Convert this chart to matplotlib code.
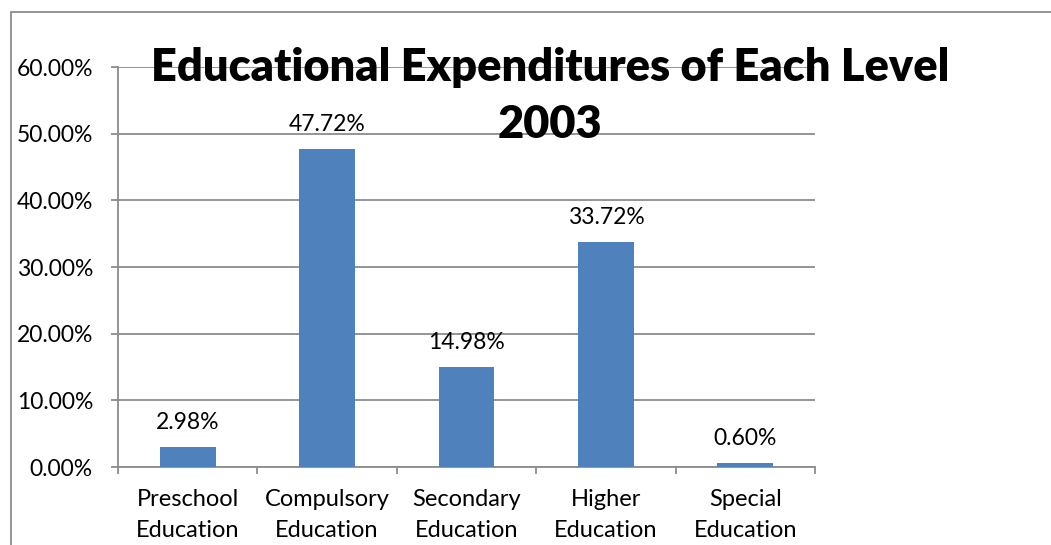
import matplotlib
matplotlib.use("Agg")
import matplotlib.pyplot as plt
from matplotlib.patches import Rectangle
from matplotlib.ticker import FuncFormatter, MultipleLocator

categories = ["Preschool\nEducation", "Compulsory\nEducation", "Secondary\nEducation",
              "Higher\nEducation", "Special\nEducation"]
shares = [2.98, 47.72, 14.98, 33.72, 0.60]
title = "Educational Expenditures of Each Level\n2003"

plt.rcParams["font.family"] = ["Lato", "DejaVu Sans"]

W, H = 1051, 545
fig = plt.figure(figsize=(W / 100, H / 100), dpi=100)

# outer chart frame (continues past the right and bottom edges)
fig.patches.append(Rectangle((10.5 / W, -0.1), 1.2, 1 - 12 / H + 0.1,
                             transform=fig.transFigure, fill=False,
                             edgecolor="#8c8c8c", linewidth=1.3))

ax = fig.add_axes([118 / W, 1 - 467 / H, (815 - 118) / W, (467 - 67) / H])
x = range(len(categories))
ax.bar(x, shares, width=0.4, color="#4F81BD", zorder=3)
ax.set_xlim(-0.5, len(categories) - 0.5)
ax.set_ylim(0, 60)

ax.yaxis.set_major_locator(MultipleLocator(10))
ax.yaxis.set_major_formatter(FuncFormatter(lambda v, p: f"{v:.2f}%"))
ax.grid(axis="y", color="#8c8c8c", linewidth=1.3, zorder=0)
ax.set_axisbelow(True)

for s in ["top", "right"]:
    ax.spines[s].set_visible(False)
for s in ["left", "bottom"]:
    ax.spines[s].set_color("#8c8c8c")
    ax.spines[s].set_linewidth(1.3)

FS = 16.5
ax.tick_params(axis="y", length=5, width=1.3, color="#8c8c8c", labelsize=FS, pad=13)
ax.set_xticks([i + 0.5 for i in range(-1, len(categories))], minor=False)
ax.set_xticklabels([])
ax.tick_params(axis="x", which="major", length=5, width=1.3, color="#8c8c8c")
ax.set_xticks(list(x), minor=True)
ax.set_xticklabels(categories, minor=True, fontsize=17, linespacing=1.55)
ax.tick_params(axis="x", which="minor", length=0, pad=16)

for xi, v in zip(x, shares):
    ax.annotate(f"{v:.2f}%", (xi, v), xytext=(0, 10), textcoords="offset points",
                ha="center", va="bottom", fontsize=FS)

fig.text(550 / W, 1 - 96 / H, title, ha="center", va="center", fontsize=32.5,
         fontweight="heavy", linespacing=1.5, zorder=5)

fig.savefig("out.png", dpi=100)
